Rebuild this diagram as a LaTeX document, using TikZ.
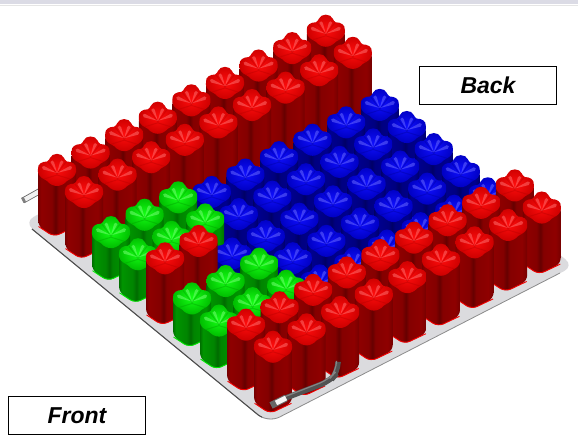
\documentclass[tikz,border=0pt]{standalone}
\usepackage{fontspec}
\setmainfont{Liberation Sans}
\definecolor{redA}{rgb}{.46,0,0}\definecolor{redB}{rgb}{.56,0,0}\definecolor{redC}{rgb}{.52,0,0}\definecolor{redD}{rgb}{.40,0,0}
\definecolor{greenA}{rgb}{0,.44,0}\definecolor{greenB}{rgb}{0,.58,0}\definecolor{greenC}{rgb}{0,.52,0}\definecolor{greenD}{rgb}{0,.42,0}
\definecolor{blueA}{rgb}{0,0,.42}\definecolor{blueB}{rgb}{0,0,.56}\definecolor{blueC}{rgb}{0,0,.50}\definecolor{blueD}{rgb}{0,0,.40}
\definecolor{redIn}{rgb}{1,.05,.05}\definecolor{redOut}{rgb}{.80,0,0}\definecolor{redRay}{rgb}{1,.42,.42}\definecolor{redDk}{rgb}{.72,0,0}\definecolor{redRim}{rgb}{.95,0,0}
\definecolor{greenIn}{rgb}{.08,1,.08}\definecolor{greenOut}{rgb}{0,.74,0}\definecolor{greenRay}{rgb}{.45,1,.45}\definecolor{greenDk}{rgb}{0,.62,0}\definecolor{greenRim}{rgb}{0,.9,0}
\definecolor{blueIn}{rgb}{.06,.06,1}\definecolor{blueOut}{rgb}{0,0,.76}\definecolor{blueRay}{rgb}{.4,.4,1}\definecolor{blueDk}{rgb}{0,0,.62}\definecolor{blueRim}{rgb}{0,0,.9}
\definecolor{plategrey}{rgb}{.86,.86,.87}
\definecolor{topband}{rgb}{.86,.86,.90}
\newcommand{\declbody}[1]{%
  \pgfdeclarehorizontalshading{#1body}{100bp}{%
    color(0bp)=(#1A); color(25bp)=(#1A); color(29bp)=(#1B); color(43bp)=(#1C);
    color(48bp)=(#1D); color(52bp)=(#1C); color(68bp)=(#1B); color(75bp)=(#1A); color(100bp)=(#1A)}}
\declbody{red}\declbody{green}\declbody{blue}
\newcommand{\cellcap}[1]{%
  \shade[inner color=#1In,outer color=#1Out]
    (-19,1) .. controls (-19.5,-4) and (-15,-6.5) .. (-10,-6.5)
    .. controls (-8,-7) and (-8,-9) .. (-7,-10)
    .. controls (-5,-15.5) and (5,-15.5) .. (7,-10)
    .. controls (8,-9) and (8,-7) .. (10,-6.5)
    .. controls (15,-6.5) and (19.5,-4) .. (19,1)
    .. controls (19.5,5) and (18,8) .. (15,10)
    .. controls (13,11) and (12,11.5) .. (10,13)
    .. controls (7,16.5) and (3,18) .. (0,18)
    .. controls (-3,18) and (-7,16.5) .. (-10,13)
    .. controls (-12,11.5) and (-13,11) .. (-15,10)
    .. controls (-18,8) and (-19.5,5) .. (-19,1) -- cycle;
  \draw[#1Dk,line width=1pt,opacity=.4] (0,6) -- (-9,-6) (0,6) -- (9,-6) (0,7) -- (-13,11) (0,7) -- (13,11);
  \fill[#1Ray,opacity=.55] (0,5) -- (-14,1.5) .. controls (-16,0) and (-15,-2.5) .. (-13,-2) -- cycle;
  \fill[#1Ray,opacity=.55] (0,5) -- (13,-2) .. controls (15,-2.5) and (16,0) .. (14,1.5) -- cycle;
  \fill[#1Ray,opacity=.55] (0,5) -- (-6.5,-6) .. controls (-5.5,-8) and (-3.5,-8) .. (-3,-6) -- cycle;
  \fill[#1Ray,opacity=.55] (0,5) -- (3,-6) .. controls (3.5,-8) and (5.5,-8) .. (6.5,-6) -- cycle;
}
\newcommand{\cell}[4]{% x, y, height, colour
  \begin{scope}[shift={(#1,#2)}]
    \shade[shading=#4body,rounded corners=6pt]
      (-19,0) -- (-19,#3-10) -- (-3,#3+1) -- (19,#3-10) -- (19,0) -- cycle;
    \draw[#4Rim,line width=.9pt,rounded corners=6pt]
      (-18.5,#3-9.5) -- (-3,#3+.7) -- (18.5,#3-9.5);
    \cellcap{#4}
  \end{scope}}
\begin{document}
\begin{tikzpicture}[x=1pt,y=-1pt,
  labelbox/.style={draw=black,line width=1.4pt,fill=white,inner sep=0pt,
    minimum width=137pt,minimum height=38pt,font=\fontsize{23}{23}\selectfont\bfseries\itshape,text=black}]
\useasboundingbox (0,0) rectangle (578,438);
\fill[white] (0,0) rectangle (578,438);
\fill[topband] (0,0) rectangle (578,4);
\fill[black!10] (0,5) rectangle (578,6);
% plate
\fill[plategrey,rounded corners=11pt] (24,222) -- (318,65) -- (574,266) -- (268,423) -- cycle;
\draw[black!45,line width=.8pt,rounded corners=13pt] (32,229) -- (268,423) -- (560,273);
\begin{scope}
  \clip (0,200) rectangle (262,430);
  \draw[black!70,line width=1pt,rounded corners=13pt] (32,229) -- (268,423) -- (560,273);
\end{scope}
% left tube
\draw[black!60,line width=6pt] (23,200.5) -- (40,191);
\draw[black!5,line width=4.4pt] (24,200) -- (40,191);
\fill[black!50] (21,198) -- (23.5,203) -- (26,201.5) -- (23.5,196.8) -- cycle;
% cells
\foreach \j in {0,...,8}{
  \foreach \i in {8,7,...,0}{
    \pgfmathsetmacro{\px}{57+33.6*\i+27*\j}
    \pgfmathsetmacro{\py}{168-17.4*\i+22.1*\j}
    \edef\kind{red}\def\drop{0}
    \ifnum\j=4 \ifnum\i>1 \edef\kind{blue}\def\drop{30}\fi\fi
    \ifnum\j>1 \ifnum\j<7 \ifnum\j=4 \else
      \ifnum\i>2 \edef\kind{blue}\def\drop{30}\else \edef\kind{green}\def\drop{18}\fi
    \fi\fi\fi
    \pgfmathsetmacro{\py}{\py+\drop}
    \pgfmathsetmacro{\hh}{68-\drop}
    \cell{\px}{\py}{\hh}{\kind}
  }
}
% hose
\draw[black!68,line width=5.5pt,rounded corners=10pt] (283,399) -- (330,381) -- (338,372) -- (338,363);
\draw[black!48,line width=1.2pt,rounded corners=10pt] (284,397) -- (329,379.5) -- (336.5,371) -- (336.5,364);
\draw[black!60,line width=7pt] (271,405.5) -- (286,398);
\draw[black!4,line width=5pt] (276,403) -- (286,398);
% labels
\node[labelbox] (back) at (488,85.5) {Back};
\node[labelbox] (front) at (77,415.5) {Front};
\end{tikzpicture}
\end{document}
